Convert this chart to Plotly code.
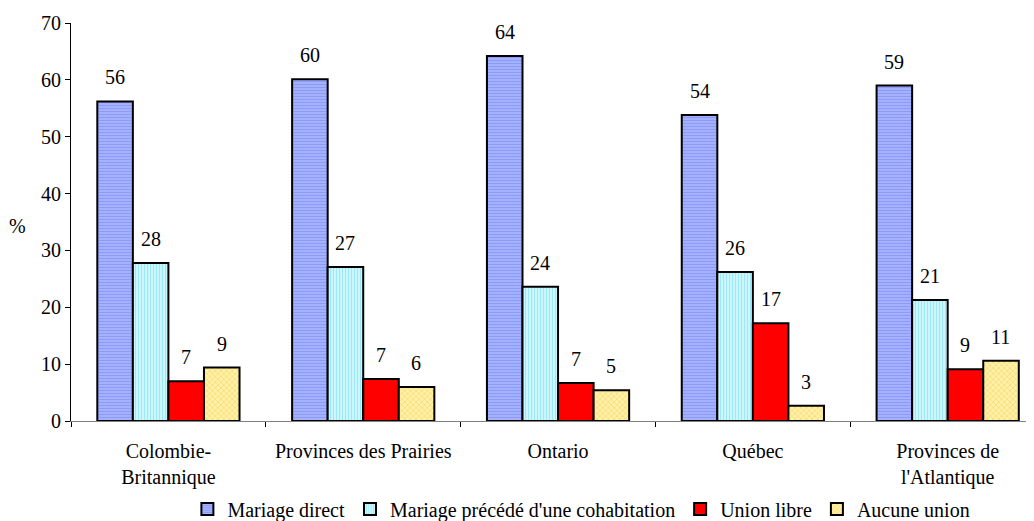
import plotly.graph_objects as go

regions = ["Colombie-<br>Britannique", "Provinces des Prairies", "Ontario",
           "Québec", "Provinces de<br>l'Atlantique"]
series = ["Mariage direct", "Mariage précédé d'une cohabitation",
          "Union libre", "Aucune union"]
mariage_direct = [56.2, 60.1, 64.2, 53.8, 59.0]
mariage_cohab = [27.8, 27.1, 23.6, 26.2, 21.3]
union_libre = [7.0, 7.4, 6.7, 17.2, 9.1]
aucune_union = [9.4, 6.0, 5.4, 2.7, 10.6]
y_ticks = [0, 10, 20, 30, 40, 50, 60, 70]

values = [mariage_direct, mariage_cohab, union_libre, aucune_union]
patterns = [
    dict(shape="-", bgcolor="#a9b6ff", fgcolor="#6f80ee", size=3, solidity=0.45),
    dict(shape="|", bgcolor="#d4f8ff", fgcolor="#66d8f0", size=3, solidity=0.45),
    dict(shape="", bgcolor="#ff0000", fgcolor="#ff0000"),
    dict(shape="x", bgcolor="#fff2a8", fgcolor="#f2c64a", size=4, solidity=0.4),
]
colors = ["#a9b6ff", "#d4f8ff", "#ff0000", "#fff2a8"]

font = "Liberation Serif, Times New Roman, serif"
fs = 20

# page has an 8px body margin, so the figure is a bit smaller than the window
W, H = 1026, 513
left, top, bottom = 63, 15, 100
plot_h = H - top - bottom
plot_w = W - left

fig = go.Figure()
for name, vals, pat, col in zip(series, values, patterns, colors):
    fig.add_trace(go.Bar(
        x=regions, y=vals, name=name,
        marker=dict(color=col, pattern=pat, line=dict(color="black", width=2)),
    ))

# value labels above the bars (shifted to sit on each bar of the group)
bar_px = 35.5
for i, vals in enumerate(values):
    for reg, v in zip(regions, vals):
        fig.add_annotation(
            x=reg, y=v, text=f"{round(v)}", showarrow=False,
            xshift=(i - 1.5) * bar_px, yshift=24,
            font=dict(family=font, size=fs, color="black"),
        )

fig.add_annotation(
    x=(9 - left) / plot_w, y=(413 - 218) / plot_h, xref="paper", yref="paper",
    xanchor="center", yanchor="middle",
    text="%", showarrow=False, font=dict(family=font, size=fs, color="black"),
)

fig.update_layout(
    width=W, height=H,
    margin=dict(l=left, r=0, t=top, b=bottom, autoexpand=False),
    paper_bgcolor="white", plot_bgcolor="white",
    barmode="group", bargap=0.27, bargroupgap=0,
    font=dict(family=font, size=fs, color="black"),
    showlegend=True,
    legend=dict(orientation="h", x=0.53, xanchor="center",
                yref="container", y=1 - 501 / H, yanchor="middle",
                font=dict(family=font, size=fs), itemwidth=30,
                tracegroupgap=0),
)
fig.update_xaxes(
    range=[-0.5, 4.443], showline=True, linecolor="#808080", linewidth=1,
    ticks="outside", tickson="boundaries", ticklen=5, tickcolor="black",
    showgrid=False, tickfont=dict(family=font, size=fs), automargin=False,
    ticklabelstandoff=12,
)
fig.update_yaxes(
    range=[0, 70], tickvals=y_ticks, showline=True, linecolor="black", linewidth=1,
    ticks="outside", ticklen=5, tickcolor="black", showgrid=False, zeroline=False,
    tickfont=dict(family=font, size=fs), automargin=False,
)

fig.write_html("out.html")
